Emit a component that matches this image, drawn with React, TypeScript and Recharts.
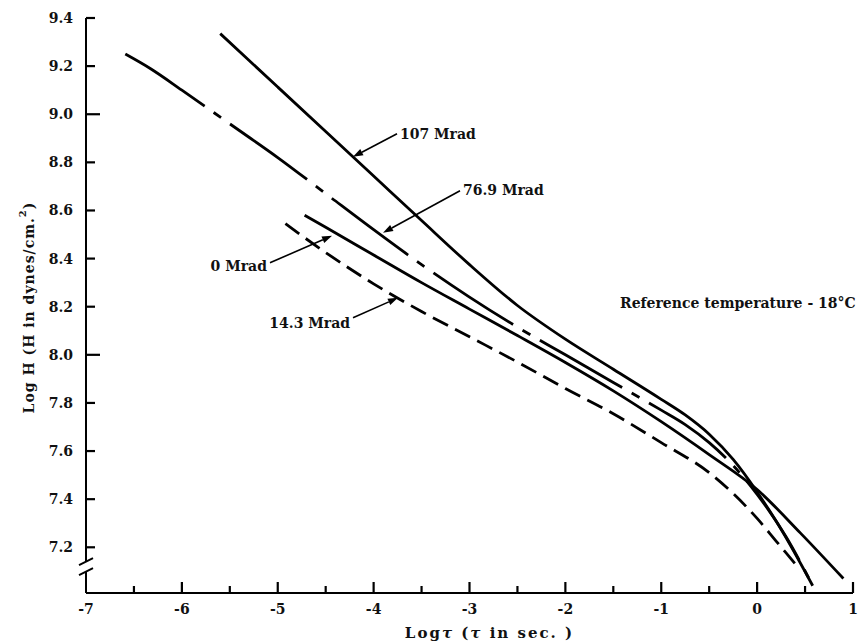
import React from 'react';
import { LineChart, Line, XAxis, YAxis, ReferenceLine, ReferenceDot } from 'recharts';

const FONT = '"DejaVu Serif", serif';

const xTicks = [-7, -6.5, -6, -5.5, -5, -4.5, -4, -3.5, -3, -2.5, -2, -1.5, -1, -0.5, 0, 0.5, 1];
const yTicks = [7.2, 7.4, 7.6, 7.8, 8.0, 8.2, 8.4, 8.6, 8.8, 9.0, 9.2, 9.4];
const yBreak = 7.12;

// 107 Mrad (solid)
const m107X = [-5.6, -5.0, -4.5, -4.0, -3.5, -3.0, -2.5, -2.0, -1.5, -1.0, -0.75, -0.5, -0.25, 0.0, 0.25, 0.58];
const m107Y = [9.335, 9.113, 8.928, 8.743, 8.558, 8.375, 8.205, 8.065, 7.94, 7.815, 7.75, 7.67, 7.565, 7.43, 7.275, 7.04];

// 76.9 Mrad (dash-dot)
const m769X = [-6.59, -6.33, -6.0, -5.5, -5.0, -4.5, -4.0, -3.5, -3.0, -2.5, -2.0, -1.5, -1.0, -0.75, -0.5, -0.25, 0.0, 0.3, 0.58];
const m769Y = [9.25, 9.19, 9.1, 8.96, 8.82, 8.67, 8.52, 8.375, 8.24, 8.115, 8.0, 7.885, 7.77, 7.71, 7.635, 7.54, 7.42, 7.245, 7.04];

// 0 Mrad (solid)
const m0X = [-4.72, -4.5, -4.0, -3.5, -3.0, -2.5, -2.0, -1.5, -1.0, -0.5, 0.0, 0.45, 0.9];
const m0Y = [8.58, 8.53, 8.415, 8.3, 8.19, 8.08, 7.968, 7.85, 7.722, 7.585, 7.44, 7.26, 7.07];

// 14.3 Mrad (dashed)
const m143X = [-4.92, -4.5, -4.0, -3.5, -3.0, -2.5, -2.0, -1.5, -1.0, -0.5, 0.0, 0.2, 0.4];
const m143Y = [8.545, 8.425, 8.295, 8.18, 8.075, 7.97, 7.86, 7.755, 7.635, 7.51, 7.32, 7.225, 7.13];

const toPts = (xs: number[], ys: number[]) => xs.map((x, i) => ({ x, y: ys[i] }));

const series = [
  { name: '107 Mrad', data: toPts(m107X, m107Y), dash: undefined as string | undefined },
  { name: '76.9 Mrad', data: toPts(m769X, m769Y), dash: '95 11 9 11' },
  { name: '0 Mrad', data: toPts(m0X, m0Y), dash: undefined },
  { name: '14.3 Mrad', data: toPts(m143X, m143Y), dash: '17 8' },
];

// annotation arrows: label, arrow start (label side), arrow tip
const annotations = [
  { label: '107 Mrad', from: { x: -3.756, y: 8.919 }, to: { x: -4.215, y: 8.823 }, anchor: 'start', dy: 5 },
  { label: '76.9 Mrad', from: { x: -3.099, y: 8.682 }, to: { x: -3.902, y: 8.507 }, anchor: 'start', dy: 4 },
  { label: '0 Mrad', from: { x: -5.081, y: 8.3825 }, to: { x: -4.434, y: 8.495 }, anchor: 'end', dy: 8 },
  { label: '14.3 Mrad', from: { x: -4.215, y: 8.154 }, to: { x: -3.746, y: 8.237 }, anchor: 'end', dy: 10 },
];

const refText = { label: 'Reference temperature - 18°C', x: -1.43, y: 8.216 };

const Y_TM = 13;

function YTick(props: any) {
  const x = Number(props.x);
  const y = Number(props.y);
  const v = Number(props.payload.value);
  const ax = x + Y_TM;
  if (Math.abs(v - yBreak) < 1e-6) {
    return (
      <g>
        <rect x={ax - 2} y={y - 5} width={4} height={10} fill="#fff" />
        <path d={`M${ax - 7},${y - 1.5} L${ax + 7},${y - 8.5}`} stroke="#000" strokeWidth={2} fill="none" />
        <path d={`M${ax - 7},${y + 8.5} L${ax + 7},${y + 1.5}`} stroke="#000" strokeWidth={2} fill="none" />
      </g>
    );
  }
  const major = Math.abs(v - Math.round(v)) < 1e-6;
  return (
    <g>
      <line x1={ax} y1={y} x2={ax + (major ? 14 : 9)} y2={y} stroke="#000" strokeWidth={2.2} />
      <text x={x} y={y} dy={5} textAnchor="end" fontFamily={FONT} fontWeight="bold" fontSize={14} fill="#111">
        {v.toFixed(1)}
      </text>
    </g>
  );
}

function XTick(props: any) {
  const x = Number(props.x);
  const y = Number(props.y);
  const v = Number(props.payload.value);
  const major = Number.isInteger(v);
  return (
    <g>
      {v > -7 && <line x1={x} y1={y} x2={x} y2={y - (major ? 11 : 7)} stroke="#000" strokeWidth={2.2} />}
      {major && (
        <text x={x} y={y} dy={21} textAnchor="middle" fontFamily={FONT} fontWeight="bold" fontSize={14} fill="#111">
          {String(v)}
        </text>
      )}
    </g>
  );
}

const arrowShape = (label: string, anchor: string, dy: number) => (p: any) => {
  const { x1, y1, x2, y2 } = p;
  const ang = Math.atan2(y2 - y1, x2 - x1);
  const L = 10;
  const hw = 3.5;
  const bx = x2 - L * Math.cos(ang);
  const by = y2 - L * Math.sin(ang);
  const px = -Math.sin(ang) * hw;
  const py = Math.cos(ang) * hw;
  return (
    <g>
      <line x1={x1} y1={y1} x2={bx} y2={by} stroke="#000" strokeWidth={1.6} />
      <polygon points={`${x2},${y2} ${bx + px},${by + py} ${bx - px},${by - py}`} fill="#000" />
      <text x={anchor === 'start' ? x1 + 3 : x1 - 3} y={y1} dy={dy} textAnchor={anchor as any} fontFamily={FONT} fontWeight="bold" fontSize={14} fill="#111">
        {label}
      </text>
    </g>
  );
};

const YLabel = (props: any) => {
  const vb = props.viewBox;
  const cx = vb.x + 29;
  const cy = vb.y + vb.height / 2 + 2;
  return (
    <text x={cx} y={cy} transform={`rotate(-90 ${cx} ${cy})`} textAnchor="middle" dominantBaseline="central" fontFamily={FONT} fontWeight="bold" fontSize={14} letterSpacing={1} fill="#111">
      Log H (H in dynes/cm.<tspan dy={-7} fontSize={10}>2</tspan>
      <tspan dy={7}>)</tspan>
    </text>
  );
};

const XLabel = (props: any) => {
  const vb = props.viewBox;
  const cx = vb.x + vb.width / 2 + 20;
  const cy = vb.y + 45;
  return (
    <text x={cx} y={cy} textAnchor="middle" fontFamily={FONT} fontWeight="bold" fontSize={15} letterSpacing={2} fill="#111">
      Log<tspan fontStyle="italic">τ</tspan> (<tspan fontStyle="italic">τ</tspan> in sec. )
    </text>
  );
};

export default function App() {
  return (
    <div style={{ position: 'absolute', left: 0, top: 0, width: 865, height: 644, background: '#fff' }}>
      <LineChart width={865} height={644} margin={{ top: 18, right: 12, left: 0, bottom: 0 }}>
        <XAxis type="number" dataKey="x" domain={[-7, 1]} allowDataOverflow ticks={xTicks} interval={0} height={51} tickSize={0} tickMargin={0} tickLine={false} axisLine={{ stroke: '#000', strokeWidth: 2 }} tick={<XTick />} label={{ content: <XLabel /> }} />
        <YAxis type="number" dataKey="y" domain={[7.01, 9.4]} allowDataOverflow ticks={[yBreak, ...yTicks]} interval={0} width={86} tickSize={0} tickMargin={Y_TM} tickLine={false} axisLine={{ stroke: '#000', strokeWidth: 2 }} tick={<YTick />} label={{ content: <YLabel /> }} />
        {series.map((s) => (
          <Line key={s.name} name={s.name} data={s.data} dataKey="y" type="monotone" stroke="#000" strokeWidth={2.8} strokeDasharray={s.dash} dot={false} activeDot={false} isAnimationActive={false} />
        ))}
        {annotations.map((a) => (
          <ReferenceLine key={a.label} segment={[a.from, a.to]} ifOverflow="visible" shape={arrowShape(a.label, a.anchor, a.dy)} />
        ))}
        <ReferenceDot x={refText.x} y={refText.y} r={0} ifOverflow="visible" shape={(p: any) => (
          <text x={p.cx} y={p.cy} dy={5} fontFamily={FONT} fontWeight="bold" fontSize={14} fill="#111">{refText.label}</text>
        )} />
      </LineChart>
    </div>
  );
}
